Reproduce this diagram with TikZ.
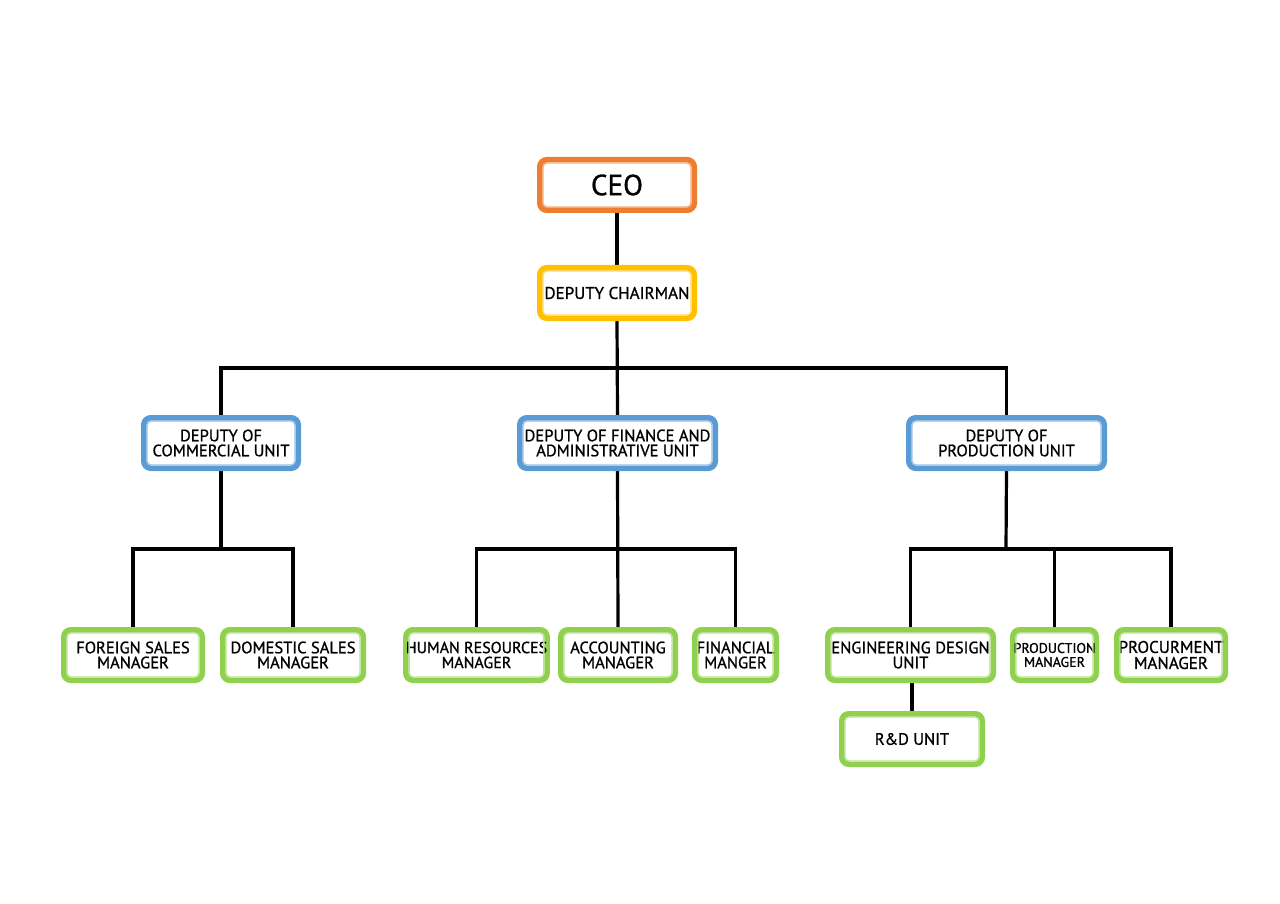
\documentclass[tikz,border=0pt]{standalone}
\usepackage{fontspec}
\setmainfont{PT Sans}[FakeBold=1.0]
\usetikzlibrary{backgrounds}
\definecolor{cOrange}{HTML}{ED7D31}
\definecolor{cYellow}{HTML}{FFC000}
\definecolor{cBlue}{HTML}{5B9BD5}
\definecolor{cGreen}{HTML}{8FD14F}
\tikzset{
  box/.style={draw=#1, line width=5.5pt, rounded corners=7pt, fill=white,
    minimum height=50.5pt, inner sep=0pt, align=center,
    font=\fontsize{16.5}{15}\selectfont},
  inner/.style={draw=#1!60, line width=1.4pt, rounded corners=4pt},
  conn/.style={line width=3.2pt, black},
}
\begin{document}
\begin{tikzpicture}[x=1pt,y=-1pt]
\useasboundingbox (0,0) rectangle (1280,904);
\node[box=cOrange, minimum width=154.5pt, font=\fontsize{29}{30}\selectfont] (ceo) at (617,185) {CEO};
\node[box=cYellow, minimum width=154.5pt, font=\fontsize{17}{15}\selectfont] (dc) at (617,293) {DEPUTY CHAIRMAN};
\node[box=cBlue, minimum width=154.5pt] (dcu) at (221,443) {DEPUTY OF\\COMMERCIAL UNIT};
\node[box=cBlue, minimum width=195.5pt] (dfa) at (617.5,443) {DEPUTY OF FINANCE AND\\ADMINISTRATIVE UNIT};
\node[box=cBlue, minimum width=195.5pt] (dpu) at (1006.5,443) {DEPUTY OF\\PRODUCTION UNIT};
\node[box=cGreen, minimum width=138.5pt] (fsm) at (133,655) {FOREIGN SALES\\MANAGER};
\node[box=cGreen, minimum width=140.5pt] (dsm) at (293,655) {DOMESTIC SALES\\MANAGER};
\node[box=cGreen, minimum width=133.5pt, font=\fontsize{16}{15}\selectfont] (hrm) at (476.5,655) {HUMAN RESOURCES\\MANAGER};
\node[box=cGreen, minimum width=114.5pt] (acm) at (618,655) {ACCOUNTING\\MANAGER};
\node[box=cGreen, minimum width=81.5pt] (fin) at (735.5,655) {FINANCIAL\\MANGER};
\node[box=cGreen, minimum width=165.5pt] (eng) at (910.5,655) {ENGINEERING DESIGN\\UNIT};
\node[box=cGreen, minimum width=83.5pt, font=\fontsize{14}{14}\selectfont] (prm) at (1054.5,655) {PRODUCTION\\MANAGER};
\node[box=cGreen, minimum width=108.5pt, font=\fontsize{17}{16}\selectfont] (pro) at (1171,655) {PROCURMENT\\MANAGER};
\node[box=cGreen, minimum width=140.5pt] (rd) at (912,739) {R\&D UNIT};
\foreach \n/\c in {ceo/cOrange,dc/cYellow,dcu/cBlue,dfa/cBlue,dpu/cBlue,fsm/cGreen,dsm/cGreen,hrm/cGreen,acm/cGreen,fin/cGreen,eng/cGreen,prm/cGreen,pro/cGreen,rd/cGreen}
  \draw[inner=\c] ([shift={(6pt,6pt)}]\n.south west) rectangle ([shift={(-6pt,-6pt)}]\n.north east);
\coordinate (b1) at (617,368);
\coordinate (b2) at (221,549);
\coordinate (b3) at (617,549);
\coordinate (b4) at (1006,549);
\begin{pgfonlayer}{background}
\draw[conn] (ceo) -- (dc);
\draw[conn] (dc.south) -- (dfa.north);
\draw[conn] (dcu.north) |- (b1) -| (dpu.north);
\draw[conn] (dcu.south) -- (b2);
\draw[conn] (fsm.north) |- (b2) -| (dsm.north);
\draw[conn] (dfa.south) -- (acm.north);
\draw[conn] (hrm.north) |- (b3) -| (fin.north);
\draw[conn] (dpu.south) -- (b4);
\draw[conn] (eng.north) |- (b4) -| (pro.north);
\draw[conn] (prm.north) -- (prm.north |- b4);
\draw[conn] (rd.north) -- (rd.north |- eng.south);
\end{pgfonlayer}
\end{tikzpicture}
\end{document}
